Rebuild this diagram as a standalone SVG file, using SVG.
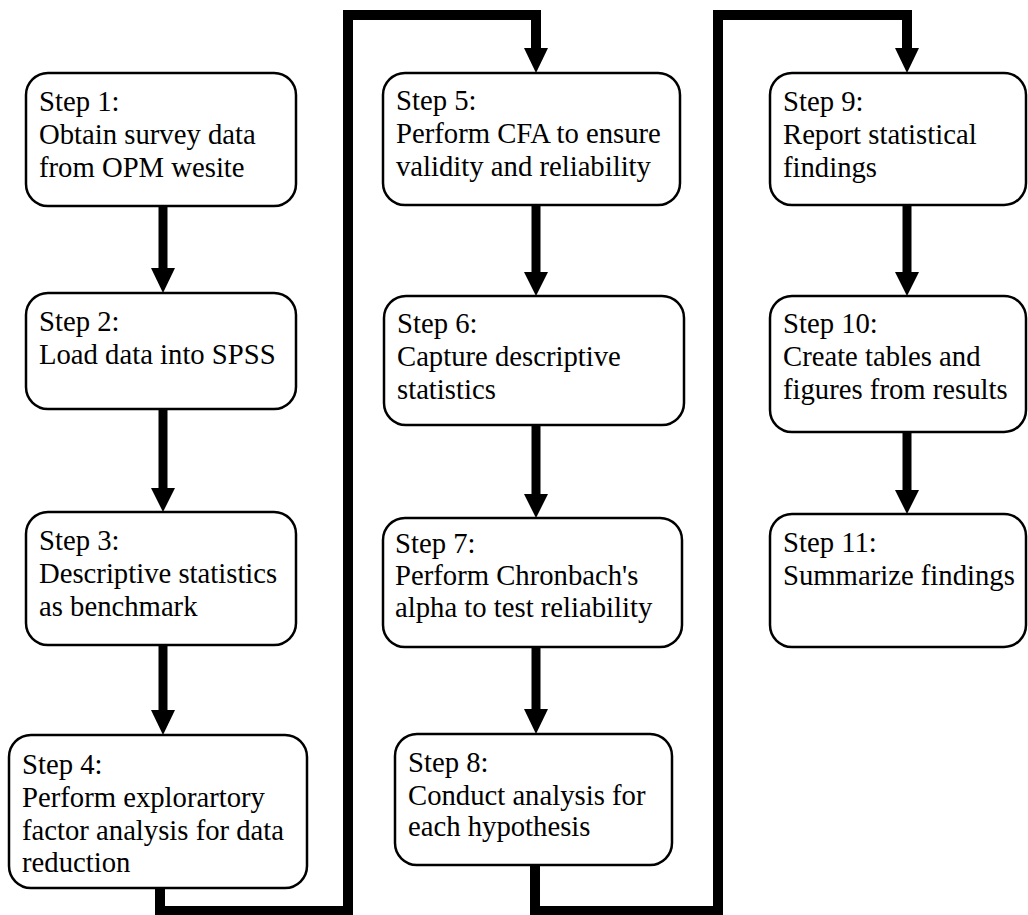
<svg xmlns="http://www.w3.org/2000/svg" width="1028" height="915" viewBox="0 0 1028 915">
<style>
.box{fill:#fff;stroke:#000;stroke-width:2.5}
.shaft{stroke:#000;stroke-width:9;fill:none}
.conn{stroke:#000;stroke-width:10;fill:none;stroke-linejoin:miter;stroke-linecap:butt}
.head{fill:#000}
</style>
<rect width="1028" height="915" fill="#fff"/>
<g id="connectors">
  <line class="shaft" x1="163" y1="206" x2="163" y2="270"/>
  <polygon class="head" points="151,268 175,268 163,293"/>
  <line class="shaft" x1="163" y1="409" x2="163" y2="490"/>
  <polygon class="head" points="151,488 175,488 163,512"/>
  <line class="shaft" x1="163" y1="645" x2="163" y2="712"/>
  <polygon class="head" points="151,710 175,710 163,735"/>
  <path class="conn" d="M160 888 V911 H348 V15 H536 V50"/>
  <polygon class="head" points="524,48 548,48 536,73"/>
  <line class="shaft" x1="536" y1="205" x2="536" y2="274"/>
  <polygon class="head" points="524,272 548,272 536,296"/>
  <line class="shaft" x1="536" y1="425" x2="536" y2="496"/>
  <polygon class="head" points="524,494 548,494 536,518"/>
  <line class="shaft" x1="536" y1="647" x2="536" y2="711"/>
  <polygon class="head" points="524,709 548,709 536,734"/>
  <path class="conn" d="M535 865 V911 H718 V15 H907 V50"/>
  <polygon class="head" points="895,48 919,48 907,73"/>
  <line class="shaft" x1="907" y1="205" x2="907" y2="274"/>
  <polygon class="head" points="895,272 919,272 907,296"/>
  <line class="shaft" x1="907" y1="432" x2="907" y2="492"/>
  <polygon class="head" points="895,490 919,490 907,514"/>
</g>
<g font-family="Liberation Serif, Times New Roman, serif" font-size="28.7" fill="#000">
<g id="step1">
  <rect class="box" x="26" y="73" width="270" height="133" rx="22"/>
  <text x="39" y="111">Step 1:</text>
  <text x="39" y="144">Obtain survey data</text>
  <text x="39" y="177">from OPM wesite</text>
</g>
<g id="step2">
  <rect class="box" x="26" y="293" width="270" height="116" rx="22"/>
  <text x="39" y="331">Step 2:</text>
  <text x="39" y="364">Load data into SPSS</text>
</g>
<g id="step3">
  <rect class="box" x="26" y="512" width="270" height="133" rx="22"/>
  <text x="39" y="550">Step 3:</text>
  <text x="39" y="583">Descriptive statistics</text>
  <text x="39" y="616">as benchmark</text>
</g>
<g id="step4">
  <rect class="box" x="9" y="735" width="298" height="153" rx="22"/>
  <text x="22" y="774">Step 4:</text>
  <text x="22" y="807">Perform explorartory</text>
  <text x="22" y="840">factor analysis for data</text>
  <text x="22" y="872">reduction</text>
</g>
<g id="step5">
  <rect class="box" x="383" y="73" width="297" height="132" rx="22"/>
  <text x="396" y="110">Step 5:</text>
  <text x="396" y="143">Perform CFA to ensure</text>
  <text x="396" y="176">validity and reliability</text>
</g>
<g id="step6">
  <rect class="box" x="384" y="296" width="300" height="129" rx="22"/>
  <text x="397" y="333">Step 6:</text>
  <text x="397" y="366">Capture descriptive</text>
  <text x="397" y="399">statistics</text>
</g>
<g id="step7">
  <rect class="box" x="383" y="518" width="299" height="129" rx="22"/>
  <text x="395" y="553">Step 7:</text>
  <text x="395" y="585">Perform Chronbach's</text>
  <text x="395" y="617">alpha to test reliability</text>
</g>
<g id="step8">
  <rect class="box" x="395" y="734" width="277" height="131" rx="22"/>
  <text x="408" y="772">Step 8:</text>
  <text x="408" y="805">Conduct analysis for</text>
  <text x="408" y="836">each hypothesis</text>
</g>
<g id="step9">
  <rect class="box" x="770" y="73" width="256" height="132" rx="22"/>
  <text x="783" y="111">Step 9:</text>
  <text x="783" y="144">Report statistical</text>
  <text x="783" y="177">findings</text>
</g>
<g id="step10">
  <rect class="box" x="770" y="296" width="256" height="136" rx="22"/>
  <text x="783" y="333">Step 10:</text>
  <text x="783" y="366">Create tables and</text>
  <text x="783" y="399">figures from results</text>
</g>
<g id="step11">
  <rect class="box" x="770" y="514" width="256" height="133" rx="22"/>
  <text x="783" y="552">Step 11:</text>
  <text x="783" y="585">Summarize findings</text>
</g>
</g>
</svg>
